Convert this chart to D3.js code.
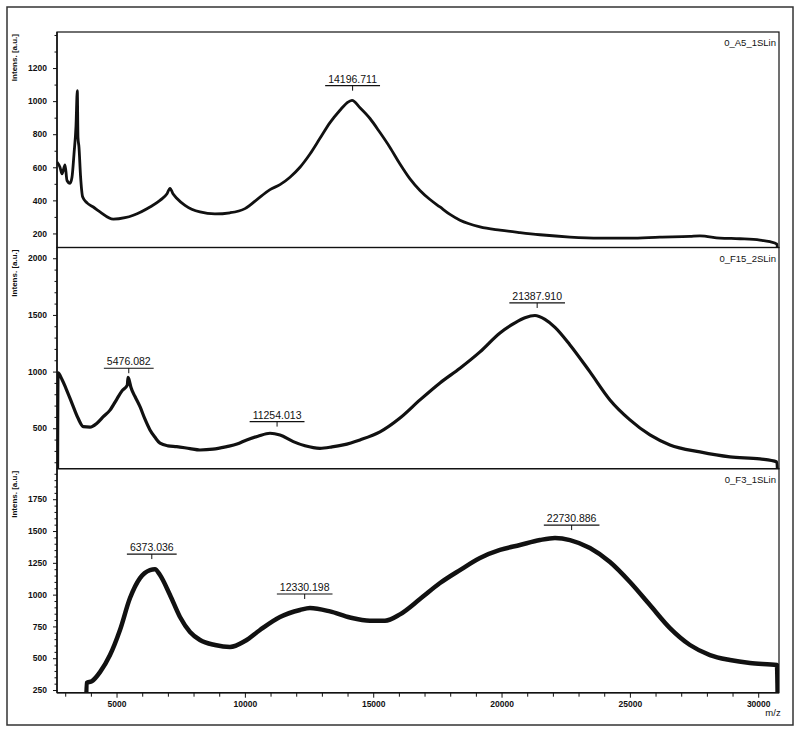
<!DOCTYPE html>
<html>
<head>
<meta charset="utf-8">
<script src="https://cdn.jsdelivr.net/npm/d3@7"></script>
<style>
  body { margin: 0; background: #fff; }
  svg text { font-family: "Liberation Sans", Arial, sans-serif; fill: #111; }
  .tick text { font-size: 8.5px; font-weight: bold; }
  .domain { display: none; }
  .tick line { stroke: #111; }
</style>
</head>
<body>
<div id="d3-container"></div>
<script>
/**
 * DATA
 * */
const topMz = [2680, 2797, 2875, 2992, 3070, 3186, 3264, 3342, 3420, 3471, 3498, 3537, 3596, 3681, 3849, 4094, 4355, 4873, 5329, 5653, 6303, 6693, 6966, 7083, 7199, 7344, 7667, 8251, 8836, 9420, 10004, 10589, 10979, 11368, 11758, 12147, 12537, 12926, 13316, 13706, 13979, 14173, 14485, 14874, 15264, 15653, 16043, 16433, 16822, 17212, 17602, 17991, 18381, 19160, 19939, 20718, 21497, 22666, 23835, 25003, 26172, 27341, 27730, 28509, 29288, 30067, 30457, 30730, 30769];
const topIntens = [631, 600, 560, 615, 520, 503, 540, 680, 850, 1063, 780, 720, 550, 420, 385, 360, 330, 286, 295, 310, 360, 400, 440, 473, 440, 413, 370, 330, 318, 325, 350, 420, 465, 495, 540, 600, 680, 775, 870, 945, 990, 1005, 960, 895, 810, 720, 620, 530, 460, 405, 360, 315, 280, 240, 220, 205, 192, 178, 172, 172, 178, 182, 185, 172, 168, 160, 150, 135, 0];

const midMz = [2700, 2719, 2875, 3031, 3264, 3498, 3705, 3966, 4238, 4484, 4745, 5018, 5212, 5419, 5450, 5485, 5563, 5719, 5914, 6108, 6303, 6498, 6693, 7004, 7344, 7862, 8251, 8758, 9292, 9693, 10071, 10511, 10979, 11368, 11887, 12342, 12926, 13394, 13834, 14485, 15264, 16043, 16822, 17602, 18381, 19160, 19939, 20523, 20913, 21302, 21692, 22082, 22666, 23445, 24224, 25003, 25782, 26561, 27730, 28899, 30067, 30730, 30769];
const midIntens = [0, 988, 930, 850, 720, 590, 514, 510, 545, 602, 660, 760, 830, 880, 950, 930, 860, 780, 690, 580, 485, 420, 368, 345, 338, 320, 308, 315, 338, 360, 397, 430, 456, 440, 382, 345, 323, 335, 353, 397, 468, 590, 750, 900, 1030, 1174, 1341, 1430, 1475, 1495, 1460, 1390, 1235, 997, 750, 574, 441, 353, 291, 247, 229, 203, 0];

const botMz = [3810, 3829, 4044, 4355, 4745, 5134, 5524, 5914, 6303, 6498, 6693, 7083, 7472, 7862, 8251, 8836, 9420, 10004, 10589, 11368, 12147, 12537, 13316, 14095, 14874, 15459, 16043, 16822, 17602, 18381, 19160, 19939, 20718, 21497, 22082, 22666, 23445, 24224, 25003, 25782, 26561, 27341, 28120, 28899, 29678, 30730, 30769];
const botIntens = [0, 305, 320, 391, 525, 722, 973, 1130, 1193, 1200, 1154, 997, 824, 706, 643, 604, 588, 635, 722, 824, 879, 895, 868, 820, 795, 795, 845, 965, 1091, 1193, 1288, 1351, 1390, 1429, 1445, 1429, 1366, 1256, 1099, 918, 737, 604, 525, 486, 462, 447, 0];

// labelled peaks: m/z, and intensity of the top of the noise band under the label
const topPeaks = [14196.711];
const topPeakLevel = [1045];
const midPeaks = [5476.082, 11254.013, 21387.910];
const midPeakLevel = [959, 488, 1535];
const botPeaks = [6373.036, 12330.198, 22730.886];
const botPeakLevel = [1256, 942, 1484];

const panelNames = ["0_A5_1SLin", "0_F15_2SLin", "0_F3_1SLin"];
const yDomains = [[115, 1418], [143, 2095], [229, 1990]];
const yMajor = [[200, 400, 600, 800, 1000, 1200], [500, 1000, 1500, 2000], [250, 500, 750, 1000, 1250, 1500, 1750]];
const yMinorStep = [100, 100, 50];
const xDomain = [2680, 30810];
const xMajor = [5000, 10000, 15000, 20000, 25000, 30000];
const xMinorStep = 1000;

/**
 * CONSTANTS AND GLOBALS
 * */
const width = 800,
  height = 731,
  plotLeft = 57,
  plotRight = 779,
  panelTops = [32, 247.5, 468.7],
  plotBottom = 692.7;

let svg;
let xScale;

function init() {
  svg = d3.select("#d3-container")
    .append("svg")
    .attr("width", width)
    .attr("height", height);

  // outer frame of the scan
  svg.append("rect")
    .attr("x", 7).attr("y", 7)
    .attr("width", 786).attr("height", 718)
    .attr("fill", "none")
    .attr("stroke", "#333")
    .attr("stroke-width", 1.5);

  xScale = d3.scaleLinear().domain(xDomain).range([plotLeft, plotRight]);

  const panels = [
    { mz: topMz, intens: topIntens, peaks: topPeaks, level: topPeakLevel, sw: 2.8 },
    { mz: midMz, intens: midIntens, peaks: midPeaks, level: midPeakLevel, sw: 3.2 },
    { mz: botMz, intens: botIntens, peaks: botPeaks, level: botPeakLevel, sw: 4.5 }
  ];

  panels.forEach((p, i) => drawPanel(p, i));

  // x axis
  const minorX = d3.range(3000, 31000, xMinorStep).filter(v => !xMajor.includes(v));
  svg.append("g")
    .attr("transform", `translate(0,${plotBottom})`)
    .call(d3.axisBottom(xScale).tickValues(minorX).tickSize(4).tickFormat(""));
  svg.append("g")
    .attr("class", "x-axis")
    .attr("transform", `translate(0,${plotBottom})`)
    .call(d3.axisBottom(xScale).tickValues(xMajor).tickSize(5).tickPadding(3).tickFormat(d3.format("d")));

  svg.append("text")
    .attr("x", 773).attr("y", 716)
    .attr("text-anchor", "middle")
    .attr("font-size", 9.5)
    .text("m/z");

  // left axis line + bottom line
  svg.append("line")
    .attr("x1", plotLeft).attr("x2", plotLeft)
    .attr("y1", panelTops[0]).attr("y2", plotBottom)
    .attr("stroke", "#111").attr("stroke-width", 1.5);
  svg.append("line")
    .attr("x1", plotLeft).attr("x2", plotRight)
    .attr("y1", plotBottom).attr("y2", plotBottom)
    .attr("stroke", "#111").attr("stroke-width", 1.5);
}

function drawPanel(p, i) {
  const top = panelTops[i];
  const bottom = i < 2 ? panelTops[i + 1] : plotBottom;

  const yScale = d3.scaleLinear().domain(yDomains[i]).range([bottom, top]);

  // panel box
  svg.append("rect")
    .attr("x", plotLeft).attr("y", top)
    .attr("width", plotRight - plotLeft).attr("height", bottom - top)
    .attr("fill", "none")
    .attr("stroke", "#111")
    .attr("stroke-width", 1.2);

  svg.append("clipPath").attr("id", "clip" + i)
    .append("rect")
    .attr("x", plotLeft).attr("y", top)
    .attr("width", plotRight - plotLeft).attr("height", bottom - top);

  // y ticks
  const [lo, hi] = yDomains[i];
  const minorY = d3.range(Math.ceil(lo / yMinorStep[i]) * yMinorStep[i], hi, yMinorStep[i])
    .filter(v => !yMajor[i].includes(v));
  svg.append("g")
    .attr("transform", `translate(${plotLeft},0)`)
    .call(d3.axisLeft(yScale).tickValues(minorY).tickSize(2.5).tickFormat(""));
  svg.append("g")
    .attr("class", "y-axis")
    .attr("transform", `translate(${plotLeft},0)`)
    .call(d3.axisLeft(yScale).tickValues(yMajor[i]).tickSize(4).tickPadding(6).tickFormat(d3.format("d")));

  // rotated axis title
  svg.append("text")
    .attr("transform", `translate(17,${top + 2}) rotate(-90)`)
    .attr("text-anchor", "end")
    .attr("font-size", 8)
    .attr("font-weight", "bold")
    .text("Intens. [a.u.]");

  // spectrum name
  svg.append("text")
    .attr("x", plotRight - 3).attr("y", top + 14)
    .attr("text-anchor", "end")
    .attr("font-size", 9.5)
    .text(panelNames[i]);

  // spectrum trace
  const line = d3.line()
    .x((d, j) => xScale(p.mz[j]))
    .y(d => yScale(d))
    .curve(d3.curveMonotoneX);

  svg.append("path")
    .datum(p.intens)
    .attr("clip-path", `url(#clip${i})`)
    .attr("fill", "none")
    .attr("stroke", "#111")
    .attr("stroke-width", p.sw)
    .attr("stroke-linejoin", "round")
    .attr("d", line);

  // peak labels
  p.peaks.forEach((mz, j) => {
    const px = xScale(mz);
    const ly = yScale(p.level[j]) - 8;
    const g = svg.append("g");
    const t = g.append("text")
      .attr("x", px).attr("y", ly - 3)
      .attr("text-anchor", "middle")
      .attr("font-size", 10.5)
      .text(mz.toFixed(3));
    const w = t.node().getComputedTextLength();
    g.append("line")
      .attr("x1", px - w / 2 - 3).attr("x2", px + w / 2 + 3)
      .attr("y1", ly).attr("y2", ly)
      .attr("stroke", "#111").attr("stroke-width", 1.2);
    g.append("line")
      .attr("x1", px).attr("x2", px)
      .attr("y1", ly).attr("y2", ly + 5)
      .attr("stroke", "#111").attr("stroke-width", 1);
  });
}

init();
</script>
</body>
</html>
